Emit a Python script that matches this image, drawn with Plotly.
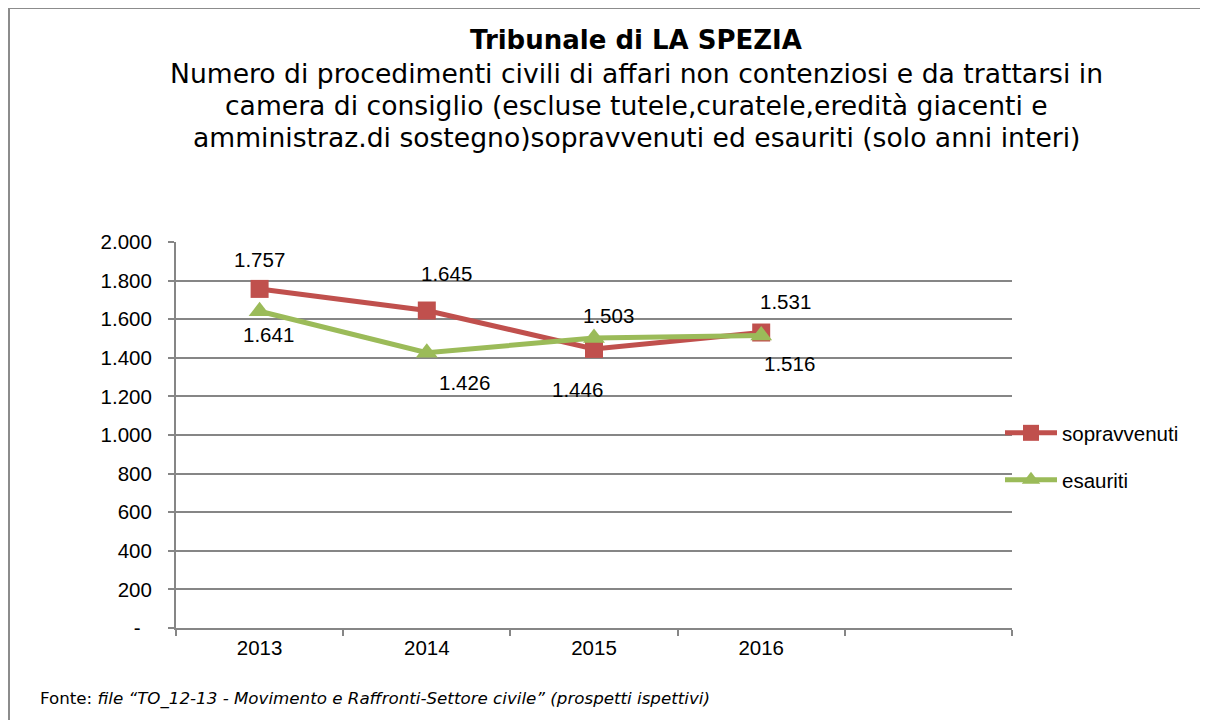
import plotly.graph_objects as go

years = ["2013", "2014", "2015", "2016"]
sopravvenuti = [1757, 1645, 1446, 1531]
esauriti = [1641, 1426, 1503, 1516]
y_tickvals = [0, 200, 400, 600, 800, 1000, 1200, 1400, 1600, 1800, 2000]
y_ticktext = ["-\u00a0\u00a0", "200", "400", "600", "800", "1.000", "1.200", "1.400", "1.600", "1.800", "2.000"]

def fmt(v):
    return f"{v:,}".replace(",", ".")

xs = [int(y) for y in years]

RED = "#C0504D"
GREEN = "#9BBB59"
GRID = "#868686"

# page offset (body margin) and plot area in screen pixels
OFF = 8
PL, PR, PT, PB = 176, 1012, 242, 628
W, H = 1208 - OFF, 720 - OFF

def px(sx):
    return (sx - PL) / (PR - PL)

def py(sy):
    return (PB - sy) / (PB - PT)

NUMFONT = dict(family="Liberation Sans", size=20.5, color="#000")

fig = go.Figure()
fig.add_trace(go.Scatter(x=xs, y=sopravvenuti, mode="lines+markers", name="sopravvenuti",
                         line=dict(color=RED, width=5),
                         marker=dict(symbol="square", size=18, color=RED),
                         legend="legend", showlegend=True))
fig.add_trace(go.Scatter(x=xs, y=esauriti, mode="lines+markers", name="esauriti",
                         line=dict(color=GREEN, width=5),
                         marker=dict(symbol="triangle-up", size=19, color=GREEN),
                         legend="legend2", showlegend=True))

# label offsets (style only)
sop_shift = [(0, 29), (20, 37), (-17, -41), (24, 31)]
esa_shift = [(9, -23), (38, -30), (14, 22), (28, -28)]
annotations = []
for x, v, (dx, dy) in zip(xs, sopravvenuti, sop_shift):
    annotations.append(dict(x=x, y=v, text=fmt(v), showarrow=False, xshift=dx, yshift=dy, font=NUMFONT))
for x, v, (dx, dy) in zip(xs, esauriti, esa_shift):
    annotations.append(dict(x=x, y=v, text=fmt(v), showarrow=False, xshift=dx, yshift=dy, font=NUMFONT))

# Titles
annotations.append(dict(xref="paper", yref="paper", x=px(636), y=py(40),
                        text="<b>Tribunale di LA SPEZIA</b>", showarrow=False,
                        font=dict(family="DejaVu Sans", size=26, color="#000"), yanchor="middle"))
sub_lines = ["Numero di procedimenti civili di affari non contenziosi e da trattarsi in",
             "camera di consiglio (escluse tutele,curatele,eredità giacenti e",
             "amministraz.di sostegno)sopravvenuti ed esauriti (solo anni interi)"]
for i, line in enumerate(sub_lines):
    annotations.append(dict(xref="paper", yref="paper", x=px(636),
                            y=py(73 + 32.5 * i),
                            text=line, showarrow=False, yanchor="middle",
                            font=dict(family="DejaVu Sans", size=26.6, color="#000")))
annotations.append(dict(xref="paper", yref="paper", x=px(38), y=py(698),
                        xanchor="left", yanchor="middle", showarrow=False,
                        text="Fonte: <i>file “TO_12-13 - Movimento e Raffronti-Settore civile” (prospetti ispettivi)</i>",
                        font=dict(family="DejaVu Sans", size=16.7, color="#000")))

shapes = [
    dict(type="line", xref="paper", yref="paper", x0=px(8), x1=px(1208),
         y0=py(8), y1=py(8), line=dict(color="#8c8c8c", width=2)),
    dict(type="line", xref="paper", yref="paper", x0=px(9), x1=px(9),
         y0=py(8), y1=py(725), line=dict(color="#8c8c8c", width=2)),
]

fig.update_layout(
    width=W, height=H,
    margin=dict(l=PL - OFF, r=(W + OFF) - PR, t=PT - OFF, b=(H + OFF) - PB, autoexpand=False),
    paper_bgcolor="white", plot_bgcolor="white",
    font=dict(family="Liberation Sans", size=20.5, color="#000"),
    annotations=annotations, shapes=shapes, showlegend=True,
    legend=dict(x=px(1000), y=py(433), xanchor="left", yanchor="middle",
                font=dict(family="Liberation Sans", size=20.5), itemwidth=52, bgcolor="rgba(0,0,0,0)"),
    legend2=dict(x=px(1000), y=py(480), xanchor="left", yanchor="middle",
                 font=dict(family="Liberation Sans", size=20.5), itemwidth=52, bgcolor="rgba(0,0,0,0)"),
)
fig.update_xaxes(range=[2012.5, 2017.5], tickvals=xs, ticktext=years, ticks="",
                 showgrid=False, zeroline=False, showline=True, linecolor=GRID, linewidth=2,
                 tickfont=NUMFONT,
                 minor=dict(tick0=2012.5, dtick=1, ticks="outside", ticklen=6, tickwidth=2,
                            tickcolor=GRID, showgrid=False),
                 fixedrange=True)
fig.update_yaxes(range=[0, 2000], tickvals=y_tickvals, ticktext=y_ticktext,
                 ticks="outside", ticklen=6, tickwidth=2, tickcolor=GRID,
                 showgrid=True, gridcolor=GRID, gridwidth=2, zeroline=False,
                 showline=True, linecolor=GRID, linewidth=2,
                 ticklabelstandoff=12,
                 tickfont=NUMFONT, fixedrange=True)

fig.write_html("out.html", config={"displayModeBar": False})
